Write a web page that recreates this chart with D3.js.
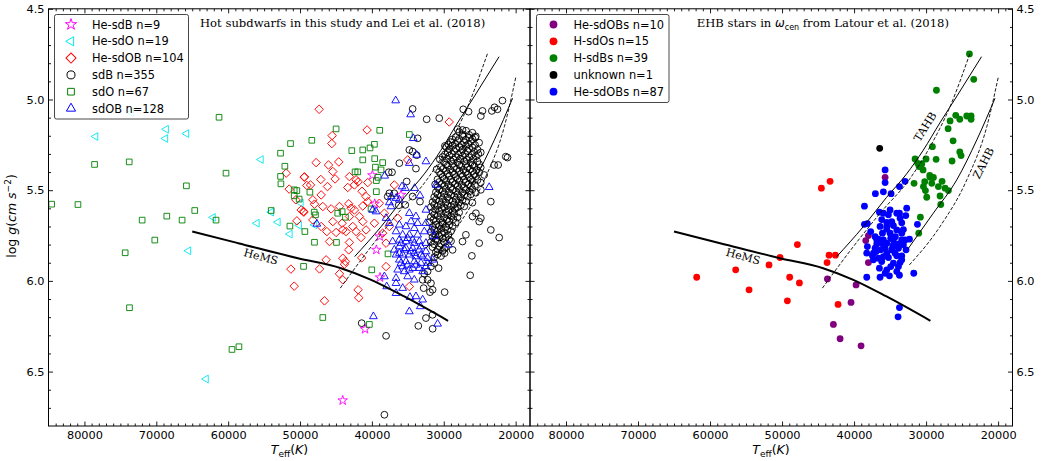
<!DOCTYPE html>
<html>
<head>
<meta charset="utf-8">
<script src="https://cdn.jsdelivr.net/npm/d3@7"></script>
<style>
  body { margin: 0; background: #fff; }
</style>
</head>
<body>
<svg id="fig" width="1052" height="461" font-family="DejaVu Sans"></svg>
<script>
const x_domain = [85000, 18000]
const y_domain = [4.5, 6.8]
const x_ticks = [80000, 70000, 60000, 50000, 40000, 30000, 20000]
const y_ticks = [4.5, 5.0, 5.5, 6.0, 6.5]

// theoretical tracks [Teff, logg]
const hems_line = [[65000,5.728],[58600,5.792],[50300,5.875],[44300,5.93],[40100,5.994],[35500,6.086],[29400,6.22]]
const tahb_line = [[42400,5.866],[38700,5.70],[35500,5.54],[32700,5.41],[30400,5.28],[28100,5.13],[25700,4.98],[22300,4.764]]
const tahb_dash = [[44400,6.04],[40100,5.811],[36390,5.627],[32200,5.434],[29440,5.26],[26670,5.039],[23900,4.745]]
const zahb_line = [[32450,5.82],[29000,5.627],[25740,5.443],[22960,5.223],[20420,4.993]]
const zahb_dash = [[32320,5.912],[28060,5.70],[24350,5.443],[21570,5.15],[19960,4.874]]

// left panel: hot subdwarfs
const he_sdb = [[39930,5.418],[39610,5.575],[38910,5.755],[39380,5.829],[38870,5.981],[40950,6.266],[35950,5.526],[44060,6.659]]
const he_sdo = [[78450,5.204],[68630,5.164],[68730,5.215],[65810,5.188],[73500,5.072],[55440,5.331],[62110,5.65],[56000,5.682],
  [53080,5.676],[51410,5.742],[50120,5.694],[65530,5.834],[54010,5.621],[63080,6.541],[49880,5.571],[47990,5.691]]
const he_sdob = [[47340,5.054],[40670,5.168],[45530,5.199],[45580,5.243],[29240,5.124],[47760,5.348],[46040,5.361],[44610,5.344],
  [45440,5.397],[49380,5.427],[47110,5.441],[45120,5.438],[43130,5.425],[42200,5.443],[41920,5.454],[42430,5.471],[40580,5.458],
  [48540,5.471],[46180,5.48],[43360,5.485],[41370,5.506],[40810,5.535],[47060,5.526],[48220,5.553],[49840,5.609],[49470,5.621],
  [47990,5.577],[46830,5.59],[45670,5.603],[44510,5.59],[43220,5.575],[42900,5.599],[42430,5.609],[41270,5.587],[40580,5.563],
  [38960,5.572],[38260,5.627],[36880,5.471],[35020,5.333],[47060,5.70],[45440,5.673],[44140,5.682],[43130,5.645],[41740,5.645],
  [41270,5.673],[42660,5.70],[44050,5.719],[43590,5.728],[42200,5.728],[44980,5.733],[46270,5.728],[48220,5.664],[45900,5.783],
  [43130,5.788],[41510,5.761],[40810,5.719],[39650,5.682],[38500,5.737],[37570,5.70],[38030,5.792],[43220,5.829],[44050,5.875],
  [43680,5.893],[43820,5.908],[46370,5.884],[47290,5.934],[44510,5.961],[44050,5.994],[41410,5.873],[41920,6.049],[41830,6.093],
  [46600,6.11],[34790,6.031],[38030,5.921],[36410,5.654],[51920,5.406],[49420,5.428],[51510,5.494],[50580,5.553],[49510,5.617],
  [50440,5.669],[51270,5.935],[50810,6.029],[49050,5.474]]
const sdb = [
  [27850,5.180],[26900,5.172],[26020,5.183],
  [28330,5.207],[27380,5.201],[26450,5.210],[25540,5.203],
  [29020,5.235],[28060,5.229],[27170,5.236],[26210,5.230],[25080,5.238],
  [29680,5.262],[28790,5.256],[27830,5.263],[26930,5.257],[25990,5.265],
  [29460,5.290],[28560,5.284],[27600,5.291],[26710,5.283],[25770,5.289],[24850,5.292],
  [30170,5.317],[29220,5.311],[28330,5.318],[27370,5.312],[26470,5.319],[25520,5.313],
  [29950,5.345],[28990,5.339],[28100,5.346],[27130,5.340],[26240,5.347],[25310,5.341],
  [30400,5.372],[29460,5.366],[28560,5.373],[27600,5.367],[26700,5.374],[25750,5.368],[24860,5.375],
  [30640,5.399],[29690,5.393],[28790,5.400],[27830,5.394],[26940,5.401],[25990,5.395],[25060,5.402],
  [30170,5.427],[29230,5.421],[28330,5.428],[27370,5.422],[26470,5.429],[25520,5.423],
  [30640,5.455],[29690,5.449],[28790,5.456],[27830,5.450],[26940,5.457],[25990,5.451],[24850,5.458],
  [30870,5.483],[29920,5.477],[29020,5.484],[28060,5.478],[27170,5.485],[26210,5.479],
  [31100,5.511],[30150,5.505],[29260,5.512],[28300,5.506],[27400,5.513],[26450,5.507],[25540,5.514],
  [31330,5.538],[30380,5.532],[29490,5.539],[28530,5.533],[27640,5.540],[26680,5.534],
  [31560,5.566],[30610,5.560],[29720,5.567],[28760,5.561],[27870,5.568],[26910,5.562],[26010,5.569],
  [31790,5.593],[30840,5.587],[29950,5.594],[28990,5.588],[28100,5.595],[27140,5.589],
  [31570,5.621],[30620,5.615],[29720,5.622],[28760,5.616],[27860,5.623],
  [31800,5.648],[30850,5.642],[29950,5.649],[28990,5.643],[28090,5.650],
  [32020,5.676],[31080,5.670],[30180,5.677],[29230,5.671],[28330,5.678],
  [31570,5.703],[30620,5.697],[29720,5.704],[28760,5.698],
  [31800,5.731],[30850,5.725],[29950,5.732],[28990,5.726],
  [31570,5.758],[30620,5.752],[29720,5.759],
  [31800,5.786],[30850,5.780],[29950,5.787],[28990,5.781],
  [31570,5.814],[30620,5.808],[29720,5.815],
  [31100,5.841],[30150,5.835],
  [31330,5.869],[30380,5.863],
  [27400,5.192],[26460,5.195],
  [28800,5.220],[27850,5.217],[26920,5.222],[25990,5.219],
  [29350,5.248],[28420,5.245],[27510,5.250],[26580,5.246],[25640,5.251],
  [29230,5.274],[28300,5.271],[27380,5.276],[26460,5.272],[25300,5.277],
  [29820,5.302],[28890,5.299],[27960,5.304],[27040,5.300],[26110,5.305],[25180,5.301],
  [30550,5.330],[29580,5.327],[28650,5.332],[27720,5.328],[26800,5.333],[25880,5.329],
  [29700,5.358],[28770,5.355],[27850,5.360],[26930,5.356],[26000,5.361],[25070,5.357],
  [30990,5.385],[30060,5.382],[29130,5.387],[28200,5.383],[27270,5.388],[26350,5.384],[25420,5.389],
  [30400,5.412],[29470,5.409],[28540,5.414],[27620,5.410],[26690,5.415],[25760,5.411],
  [30870,5.440],[29950,5.437],[29020,5.442],[28100,5.438],[27170,5.443],[26240,5.439],[25300,5.444],
  [31200,5.468],[30280,5.465],[29350,5.470],[28420,5.466],[27500,5.471],[26570,5.467],[25650,5.472],
  [30630,5.496],[29700,5.493],[28770,5.498],[27850,5.494],[26920,5.499],[26000,5.495],
  [30870,5.524],[29930,5.521],[29000,5.526],[28080,5.522],[27150,5.527],[26230,5.523],
  [31090,5.552],[30160,5.549],[29240,5.554],[28310,5.550],[27390,5.555],
  [31320,5.580],[30390,5.577],[29470,5.582],[28540,5.578],[27620,5.583],
  [31200,5.606],[30280,5.603],[29350,5.608],[28420,5.604],
  [31330,5.634],[30400,5.631],[29470,5.636],[28540,5.632],
  [31440,5.662],[30510,5.659],[29590,5.664],[28660,5.660],
  [31100,5.690],[30170,5.687],[29240,5.692],
  [31330,5.716],[30390,5.713],[29470,5.718],
  [31200,5.744],[30280,5.741],[29350,5.746],
  [31100,5.770],[30170,5.767],[29250,5.772],
  [31330,5.798],[30400,5.795],
  [30860,5.826],[29930,5.823],
  [30860,5.854],
  [34330,5.052],[32380,5.109],[30630,5.103],[27290,5.054],[26550,5.067],[24610,5.063],[24840,5.091],[23310,5.063],
  [22520,5.054],[21830,5.006],[22940,5.043],[28080,5.164],[27390,5.168],[33630,5.214],[34790,5.278],[34330,5.287],
  [33770,5.307],[36180,5.351],[37660,5.401],[37200,5.401],[33870,5.381],[29840,5.256],[25630,5.21],[21370,5.315],
  [21130,5.32],[22990,5.361],[22430,5.361],[24380,5.416],[24840,5.498],[23450,5.563],[22290,5.761],[23450,5.719],
  [25070,5.792],[26090,5.862],[26320,5.969],[28770,5.829],[29880,5.847],[27390,5.783],[26920,5.746],[25070,5.673],
  [25530,5.627],[26000,5.645],[24840,5.654],[35160,5.452],[35350,5.581],[36270,5.583],[37570,5.517],[37800,5.535],
  [32710,5.961],[32250,5.994],[31780,6.013],[32800,6.04],[31920,6.062],[31550,6.049],[29880,6.062],[32480,6.205],
  [33540,6.248],[38030,6.303],[31550,6.264],[41420,6.233],[34330,5.535],[33310,5.563],[31320,5.902],[30720,5.93],
  [31780,5.921],[32250,5.948],[32940,5.994],[36880,5.517],[38260,6.738],[31560,6.187]]
const sdo = [[61270,5.098],[51320,5.243],[52710,5.296],[78590,5.358],[73770,5.344],[52110,5.368],[60300,5.406],[52710,5.424],
  [52660,5.465],[65810,5.476],[50810,5.498],[50440,5.502],[50810,5.531],[50120,5.549],[84560,5.577],[80900,5.579],[64650,5.612],
  [68540,5.643],[71970,5.665],[66410,5.665],[61690,5.665],[54010,5.612],[51410,5.698],[49330,5.728],[70210,5.775],[74330,5.845],
  [49510,5.92],[73730,6.148],[59470,6.378],[58500,6.363],[44980,5.162],[48360,5.225],[38910,5.17],[42800,5.282],[41270,5.278],
  [40260,5.267],[39650,5.247],[41270,5.333],[39610,5.326],[38500,5.348],[39510,5.373],[38730,5.388],[42340,5.399],[41970,5.399],
  [39140,5.429],[39380,5.447],[34790,5.193],[48630,5.511],[39380,5.508],[40120,5.603],[48030,5.621],[47850,5.636],[44750,5.627],
  [44140,5.618],[43680,5.649],[47990,5.787],[44930,5.788],[37760,5.851],[40020,5.939],[46830,6.202],[40350,6.24]]
const sdob = [[36690,5.006],[34610,5.083],[34240,5.214],[33770,5.306],[32480,5.342],[34790,5.351],[38220,5.421],[31090,5.471],
  [35810,5.48],[33310,5.53],[34050,5.489],[35350,5.489],[37290,5.535],[36640,5.544],[37570,5.568],[36180,5.553],[23680,5.484],
  [32480,5.609],[34790,5.627],[33870,5.645],[34560,5.673],[33630,5.682],[32480,5.682],[36180,5.691],[35260,5.70],[34100,5.71],
  [36640,5.728],[35720,5.746],[34790,5.746],[33630,5.746],[32710,5.728],[31780,5.719],[37110,5.783],[36180,5.774],[35260,5.783],
  [34330,5.774],[33400,5.783],[32480,5.792],[36180,5.811],[35260,5.82],[34330,5.82],[33400,5.829],[32480,5.838],[36640,5.856],
  [35720,5.856],[34790,5.856],[33870,5.866],[32940,5.866],[32250,5.875],[36180,5.884],[35260,5.893],[34100,5.893],[33170,5.902],
  [32250,5.902],[35720,5.921],[34330,5.93],[33400,5.93],[32480,5.921],[36410,5.939],[34790,5.939],[31550,5.884],[38260,5.976],
  [36640,5.985],[35020,5.976],[34100,5.994],[36640,6.013],[37940,6.031],[35720,6.04],[36640,6.068],[33870,6.086],[34700,6.09],
  [32940,6.104],[33260,6.141],[34790,6.169],[39790,6.196],[30860,6.237],[29330,5.801],[39420,5.618],[37340,5.59],[39880,5.609],
  [31320,5.755],[37570,5.682],[38030,5.654],[36880,5.829],[35490,5.829],[34560,5.838],[35950,5.902],[35020,5.912],[33870,5.912],
  [32940,5.948],[35490,5.948],[36180,5.847],[34100,5.847],[33170,5.856],[35020,5.765],[34100,5.792],[33170,5.811],[35950,5.792],
  [47660,5.686]]

// right panel: EHB stars in omega Cen
const lat_he_sdobs = [[35690,5.429],[38010,5.75],[38380,5.778],[38010,5.899],[43700,5.989],[39720,6.022],[40420,6.119],[42870,6.24],[41940,6.319],[39030,6.358]]
const lat_h_sdos = [[43330,5.451],[44540,5.489],[47870,5.80],[43470,5.858],[42590,5.858],[43750,5.899],[50280,5.871],[51810,5.912],
  [56440,5.939],[61850,5.98],[48940,5.98],[47590,6.011],[54580,6.049],[49260,6.11],[42220,6.13]]
const lat_h_sdbs = [[23980,4.749],[23380,4.889],[28560,4.949],[25880,5.087],[25320,5.109],[26670,5.118],[24350,5.091],[23750,5.091],
  [23750,5.109],[26940,5.161],[26250,5.228],[29120,5.26],[25320,5.289],[25140,5.309],[31530,5.328],[30000,5.328],[28610,5.33],
  [30970,5.37],[30420,5.388],[26390,5.339],[29490,5.419],[28980,5.43],[31670,5.462],[30190,5.453],[29210,5.462],[27780,5.451],
  [28290,5.48],[27360,5.489],[26900,5.502],[30370,5.48],[30090,5.502],[29910,5.539],[28060,5.532],[27960,5.579],[30790,5.649],
  [31020,5.737],[31160,5.352],[30600,5.355],[29440,5.429]]
const lat_unknown = [[36440,5.269]]
const lat_he_sdobs_b = [[35690,5.388],[35690,5.458],[37040,5.519],[35930,5.509],[34860,5.519],[33700,5.48],[32920,5.451],[38560,5.588],
  [36480,5.621],[35000,5.609],[34070,5.627],[33700,5.627],[32690,5.599],[32820,5.64],[38150,5.684],[38560,5.688],[36160,5.662],
  [35460,5.678],[34540,5.695],[33380,5.68],[31200,5.688],[33150,5.717],[35460,5.715],[36060,5.737],[35000,5.737],[34260,5.756],
  [32310,5.77],[33380,5.774],[36620,5.77],[35930,5.774],[36850,5.796],[35460,5.792],[34540,5.801],[33800,5.796],[38150,5.811],
  [37080,5.82],[36300,5.829],[34770,5.829],[33840,5.82],[32780,5.829],[38240,5.847],[37450,5.862],[36620,5.875],[35930,5.866],
  [35230,5.871],[34070,5.862],[33380,5.862],[33610,5.899],[33380,5.884],[33840,5.921],[36480,5.93],[35460,5.939],[36390,5.98],
  [38240,5.98],[35090,5.972],[33700,5.969],[31710,5.958],[33700,6.147],[33890,6.198],[35460,5.70],[34910,5.765],[35690,5.82],
  [37310,5.847],[36850,5.774],[34540,5.774],[34070,5.719],[34770,5.673],[35930,5.627],[33610,5.655],[37690,5.728],[37080,5.756],
  [35460,5.847],[34310,5.847],[33150,5.801],[36160,5.893],[34540,5.902],[37310,5.884],[33380,5.737],[35230,5.636],[36390,5.70],
  [34630,5.811],[35690,5.958],[34070,5.948],[34910,5.921],[36940,5.838],[36020,5.796],[32920,5.774]]

const plot_top = 8.8, plot_bottom = 426
const svg = d3.select('#fig')

const shapes = {
  star: d3.symbolStar, tri: d3.symbolTriangle, square: d3.symbolSquare, circle: d3.symbolCircle
}

function make_symbol(shape, size) {
  return d3.symbol().type(shapes[shape]).size(size)()
}

function draw_axes(g, x, y, x0, x1, label_side) {
  const minor_x = d3.range(19000, 85000, 1000).filter(d => d % 10000 != 0)
  const minor_y = d3.range(46, 68).map(d => d / 10).filter(d => !y_ticks.includes(d))
  const style = a => {
    a.select('.domain').remove()
    a.attr('font-family', 'DejaVu Sans').attr('font-size', 11.3)
    a.selectAll('line').attr('stroke-width', 0.9)
  }
  g.append('g').attr('transform', `translate(0,${plot_bottom})`)
    .call(d3.axisBottom(x).tickValues(x_ticks).tickSize(-4.5).tickPadding(4.5).tickFormat(d3.format('d'))).call(style)
  g.append('g').attr('transform', `translate(0,${plot_bottom})`)
    .call(d3.axisBottom(x).tickValues(minor_x).tickSize(-2.5).tickFormat('')).call(style)
  g.append('g').attr('transform', `translate(0,${plot_top})`)
    .call(d3.axisTop(x).tickValues(x_ticks).tickSize(-4.5).tickFormat('')).call(style)
  g.append('g').attr('transform', `translate(0,${plot_top})`)
    .call(d3.axisTop(x).tickValues(minor_x).tickSize(-2.5).tickFormat('')).call(style)

  g.append('g').attr('transform', `translate(${x0},0)`)
    .call(d3.axisLeft(y).tickValues(y_ticks).tickSize(-4.5).tickPadding(4)
      .tickFormat(label_side == 'left' ? d3.format('.1f') : '')).call(style)
  g.append('g').attr('transform', `translate(${x0},0)`)
    .call(d3.axisLeft(y).tickValues(minor_y).tickSize(-2.5).tickFormat('')).call(style)
  g.append('g').attr('transform', `translate(${x1},0)`)
    .call(d3.axisRight(y).tickValues(y_ticks).tickSize(-4.5).tickPadding(4)
      .tickFormat(label_side == 'right' ? d3.format('.1f') : '')).call(style)
  g.append('g').attr('transform', `translate(${x1},0)`)
    .call(d3.axisRight(y).tickValues(minor_y).tickSize(-2.5).tickFormat('')).call(style)

  g.append('rect').attr('x', x0).attr('y', plot_top).attr('width', x1 - x0).attr('height', plot_bottom - plot_top)
    .attr('fill', 'none').attr('stroke', 'black').attr('stroke-width', 1)
}

function draw_tracks(g, x, y) {
  const line = d3.line().x(d => x(d[0])).y(d => y(d[1])).curve(d3.curveMonotoneX)
  g.append('path').attr('d', line(hems_line)).attr('fill', 'none').attr('stroke', 'black').attr('stroke-width', 2)
  for (const trk of [tahb_line, zahb_line]) {
    g.append('path').attr('d', line(trk)).attr('fill', 'none').attr('stroke', 'black').attr('stroke-width', 1)
  }
  for (const trk of [tahb_dash, zahb_dash]) {
    g.append('path').attr('d', line(trk)).attr('fill', 'none').attr('stroke', 'black')
      .attr('stroke-width', 0.9).attr('stroke-dasharray', '3.5,1.8')
  }
}

function track_label(g, x, y, txt, pos, angle) {
  g.append('text').attr('transform', `translate(${x(pos[0])},${y(pos[1])}) rotate(${angle})`)
    .attr('text-anchor', 'middle').attr('dy', '0.35em')
    .attr('font-family', 'DejaVu Serif').attr('font-size', 11).text(txt)
}

function draw_legend(g, items, bx, by, bw, bh, tx, mx) {
  g.append('rect').attr('x', bx).attr('y', by).attr('width', bw).attr('height', bh).attr('rx', 2)
    .attr('fill', 'white').attr('fill-opacity', 0.8).attr('stroke', '#333').attr('stroke-width', 0.9)
  items.forEach((it, i) => {
    const cy = by + 10 + i * 16.8
    it.draw_key(g, mx, cy)
    g.append('text').attr('x', tx).attr('y', cy + 4.1).attr('font-size', 11.4).text(it.name)
  })
}

// ---- left panel
{
  const x0 = 48.5, x1 = 530
  const x = d3.scaleLinear().domain(x_domain).range([x0, x1])
  const y = d3.scaleLinear().domain(y_domain).range([plot_top, plot_bottom])
  const g = svg.append('g')
  svg.append('clipPath').attr('id', 'clip_l').append('rect')
    .attr('x', x0).attr('y', plot_top).attr('width', x1 - x0).attr('height', plot_bottom - plot_top)

  const series = [
    {name: 'He-sdB n=9', data: he_sdb, shape: 'star', size: 28, rot: 0, color: 'magenta'},
    {name: 'He-sdO n=19', data: he_sdo, shape: 'tri', size: 26, rot: -90, color: '#00e8f0'},
    {name: 'He-sdOB n=104', data: he_sdob, shape: 'square', size: 36, rot: 45, color: 'red'},
    {name: 'sdB n=355', data: sdb, shape: 'circle', size: 36, rot: 0, color: 'black'},
    {name: 'sdO n=67', data: sdo, shape: 'square', size: 32, rot: 0, color: 'green'},
    {name: 'sdOB n=128', data: sdob, shape: 'tri', size: 26, rot: 0, color: 'blue'},
  ]
  const pts = g.append('g').attr('clip-path', 'url(#clip_l)')
  for (const s of series) {
    pts.append('g').selectAll('path').data(s.data).join('path')
      .attr('d', make_symbol(s.shape, s.size))
      .attr('transform', d => `translate(${x(d[0])},${y(d[1])}) rotate(${s.rot})`)
      .attr('fill', 'none').attr('stroke', s.color).attr('stroke-width', 0.9)
    s.draw_key = (lg, mx, cy) => lg.append('path').attr('d', make_symbol(s.shape, s.size * 1.4))
      .attr('transform', `translate(${mx},${cy}) rotate(${s.rot})`)
      .attr('fill', 'none').attr('stroke', s.color).attr('stroke-width', 1)
  }
  draw_tracks(pts, x, y)
  track_label(pts, x, y, 'HeMS', [55440, 5.866], 15)
  draw_axes(g, x, y, x0, x1, 'left')
  draw_legend(g, series, 54.5, 14.5, 134, 104.5, 92, 71)

  g.append('text').attr('x', 200).attr('y', 27.3).attr('font-family', 'DejaVu Serif').attr('font-size', 11.6)
    .text('Hot subdwarfs in this study and Lei et al. (2018)')
}

// ---- right panel
{
  const x0 = 530, x1 = 1012.5
  const x = d3.scaleLinear().domain(x_domain).range([x0, x1])
  const y = d3.scaleLinear().domain(y_domain).range([plot_top, plot_bottom])
  const g = svg.append('g')
  svg.append('clipPath').attr('id', 'clip_r').append('rect')
    .attr('x', x0).attr('y', plot_top).attr('width', x1 - x0).attr('height', plot_bottom - plot_top)

  const series = [
    {name: 'He-sdOBs n=10', data: lat_he_sdobs, color: 'purple'},
    {name: 'H-sdOs n=15', data: lat_h_sdos, color: 'red'},
    {name: 'H-sdBs n=39', data: lat_h_sdbs, color: 'green'},
    {name: 'unknown n=1', data: lat_unknown, color: 'black'},
    {name: 'He-sdOBs n=87', data: lat_he_sdobs_b, color: 'blue'},
  ]
  const pts = g.append('g').attr('clip-path', 'url(#clip_r)')
  for (const s of series) {
    pts.append('g').selectAll('circle').data(s.data).join('circle')
      .attr('cx', d => x(d[0])).attr('cy', d => y(d[1])).attr('r', 3.4).attr('fill', s.color)
    s.draw_key = (lg, mx, cy) => lg.append('circle').attr('cx', mx).attr('cy', cy).attr('r', 3.9).attr('fill', s.color)
  }
  draw_tracks(pts, x, y)
  track_label(pts, x, y, 'HeMS', [55400, 5.865], 15)
  track_label(pts, x, y, 'TAHB', [30140, 5.15], -58)
  track_label(pts, x, y, 'ZAHB', [22040, 5.351], -63)
  draw_axes(g, x, y, x0, x1, 'right')
  draw_legend(g, series, 536.5, 14.5, 132.5, 88, 573.5, 553.5)

  const t = g.append('text').attr('x', 696.7).attr('y', 27.3).attr('font-family', 'DejaVu Serif').attr('font-size', 11.6)
  t.append('tspan').text('EHB stars in ')
  t.append('tspan').attr('font-family', 'DejaVu Sans').attr('font-style', 'italic').text('ω')
  t.append('tspan').attr('font-family', 'DejaVu Sans').attr('font-size', 8).attr('dy', 2.5).text('cen')
  t.append('tspan').attr('dy', -2.5).text(' from Latour et al. (2018)')
}

// ---- axis labels
function xlabel(cx) {
  const t = svg.append('text').attr('x', cx).attr('y', 454).attr('text-anchor', 'middle').attr('font-size', 12.5)
  t.append('tspan').attr('font-style', 'italic').text('T')
  t.append('tspan').attr('font-size', 9).attr('dy', 2.5).text('eff')
  t.append('tspan').attr('dy', -2.5).text('(')
  t.append('tspan').attr('font-style', 'italic').text('K')
  t.append('tspan').text(')')
}
xlabel(289.5)
xlabel(771)

{
  const t = svg.append('text').attr('transform', 'translate(16,216) rotate(-90)')
    .attr('text-anchor', 'middle').attr('font-size', 12.5)
  t.append('tspan').text('log ')
  t.append('tspan').attr('font-style', 'italic').text('g')
  t.append('tspan').text('(')
  t.append('tspan').attr('font-style', 'italic').text('cm s')
  t.append('tspan').attr('font-size', 9).attr('dy', -5).text('−2')
  t.append('tspan').attr('dy', 5).text(')')
}
</script>
</body>
</html>
